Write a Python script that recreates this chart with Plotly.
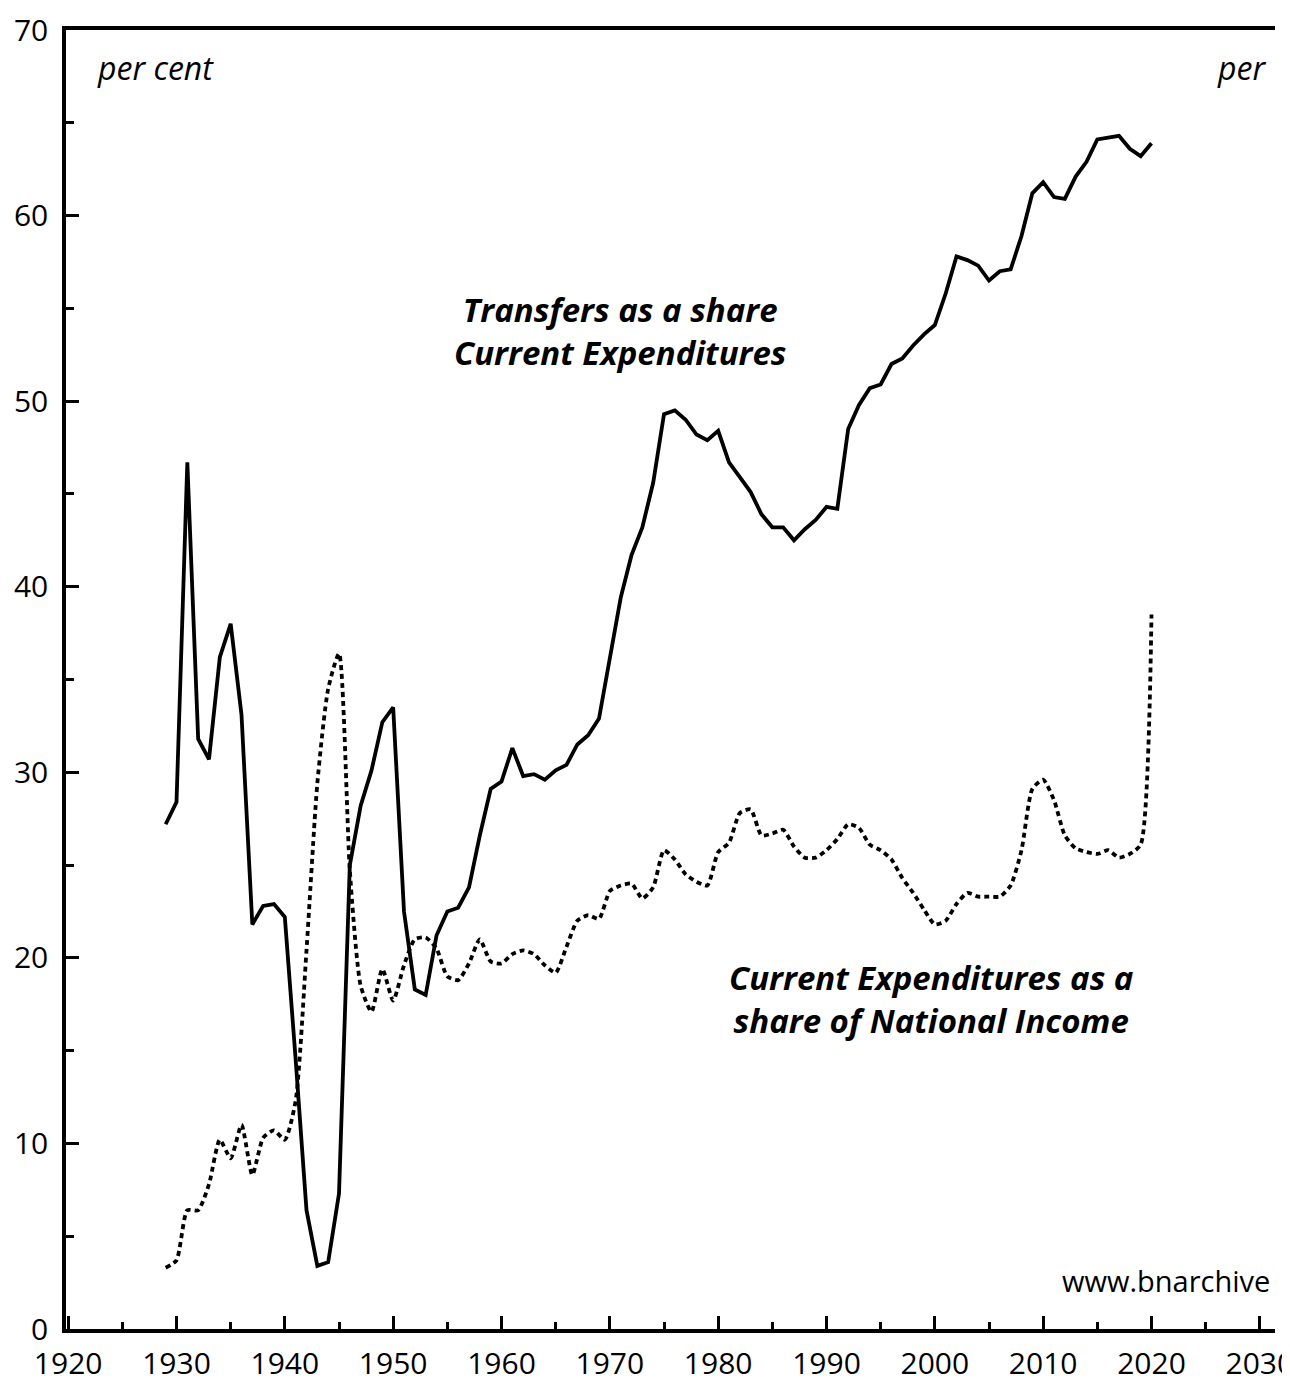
import plotly.graph_objects as go

years = list(range(1929, 2021))

transfers_share = [
    27.2, 28.4, 46.7, 31.8, 30.7, 36.2, 38.0, 33.1, 21.8, 22.8,   # 1929-1938
    22.9, 22.2, 14.5, 6.4, 3.4, 3.6, 7.3, 25.0, 28.2, 30.1,       # 1939-1948
    32.7, 33.5, 22.5, 18.3, 18.0, 21.2, 22.5, 22.7, 23.8, 26.6,   # 1949-1958
    29.1, 29.5, 31.3, 29.8, 29.9, 29.6, 30.1, 30.4, 31.5, 32.0,   # 1959-1968
    32.9, 36.1, 39.4, 41.7, 43.2, 45.6, 49.3, 49.5, 49.0, 48.2,   # 1969-1978
    47.9, 48.4, 46.7, 45.9, 45.1, 43.9, 43.2, 43.2, 42.5, 43.1,   # 1979-1988
    43.6, 44.3, 44.2, 48.5, 49.8, 50.7, 50.9, 52.0, 52.3, 53.0,   # 1989-1998
    53.6, 54.1, 55.8, 57.8, 57.6, 57.3, 56.5, 57.0, 57.1, 58.9,   # 1999-2008
    61.2, 61.8, 61.0, 60.9, 62.1, 62.9, 64.1, 64.2, 64.3, 63.6,   # 2009-2018
    63.2, 63.9,                                                   # 2019-2020
]

expenditures_share = [
    3.3, 3.7, 6.4, 6.4, 7.8, 10.2, 9.2, 11.0, 8.3, 10.3,          # 1929-1938
    10.7, 10.2, 12.3, 20.4, 29.4, 34.5, 36.4, 24.7, 18.5, 17.1,   # 1939-1948
    19.4, 17.7, 19.6, 21.0, 21.1, 20.5, 19.0, 18.8, 19.7, 21.0,   # 1949-1958
    19.8, 19.7, 20.2, 20.4, 20.2, 19.6, 19.2, 20.6, 22.0, 22.3,   # 1959-1968
    22.1, 23.6, 23.9, 24.0, 23.2, 23.8, 25.8, 25.3, 24.5, 24.1,   # 1969-1978
    23.9, 25.7, 26.2, 27.8, 28.0, 26.6, 26.7, 26.9, 26.0, 25.4,   # 1979-1988
    25.4, 25.8, 26.4, 27.2, 27.0, 26.1, 25.8, 25.3, 24.3, 23.5,   # 1989-1998
    22.6, 21.8, 22.0, 22.9, 23.5, 23.3, 23.3, 23.3, 23.9, 25.8,   # 1999-2008
    29.1, 29.6, 28.5, 26.6, 25.9, 25.7, 25.6, 25.8, 25.4, 25.6,   # 2009-2018
    26.1, 38.5,                                                   # 2019-2020
]

x_tick_vals = [1920, 1930, 1940, 1950, 1960, 1970, 1980, 1990, 2000, 2010, 2020, 2030]
y_tick_vals = [0, 10, 20, 30, 40, 50, 60, 70]

label_transfers = "Transfers as a share<br>Current Expenditures"
label_expend = "Current Expenditures as a<br>share of National Income"

fig = go.Figure()

fig.add_trace(go.Scatter(
    x=years, y=transfers_share, mode="lines",
    line=dict(color="black", width=3.8),
    showlegend=False, name="Transfers as a share of Current Expenditures",
))
fig.add_trace(go.Scatter(
    x=years, y=expenditures_share, mode="lines",
    line=dict(color="black", width=3.8, dash="5px,4px", shape="spline", smoothing=0.6),
    showlegend=False, name="Current Expenditures as a share of National Income",
))

font_family = "Open Sans, Lato, DejaVu Sans, sans-serif"

# the page body has an 8px margin, so the figure is sized/offset to compensate
fig.update_layout(
    width=1282, height=1372,
    margin=dict(l=58, r=15, t=22, b=51, autoexpand=False),
    paper_bgcolor="white", plot_bgcolor="white",
    font=dict(family=font_family, color="black", size=30),
    xaxis=dict(
        range=[1919.8, 2031.4],
        tickvals=x_tick_vals,
        ticks="inside", ticklen=13, tickwidth=2.5, tickcolor="black",
        minor=dict(dtick=5, tick0=1920, ticks="inside", ticklen=7, tickwidth=2.5, tickcolor="black"),
        showline=True, linewidth=3.5, linecolor="black", mirror=True,
        showgrid=False, zeroline=False,
        tickfont=dict(size=30, family=font_family, color="black"),
        ticklabelstandoff=5,
        ticklabeloverflow="allow",
        automargin=False,
    ),
    yaxis=dict(
        range=[0, 70],
        tickvals=y_tick_vals,
        ticks="inside", ticklen=13, tickwidth=3, tickcolor="black",
        minor=dict(dtick=5, tick0=0, ticks="inside", ticklen=8, tickwidth=3, tickcolor="black"),
        showline=True, linewidth=3.5, linecolor="black", mirror=False,
        showgrid=False, zeroline=False,
        tickfont=dict(size=30, family=font_family, color="black"),
        ticklabelstandoff=8,
        ticklabeloverflow="allow",
        automargin=False,
    ),
)

fig.add_annotation(
    x=0.024, y=0.971, xref="paper", yref="paper", xanchor="left", yanchor="middle",
    text="<i>per cent</i>", showarrow=False,
    font=dict(size=32, family=font_family, color="black"),
)
fig.add_annotation(
    x=0.994, y=0.971, xref="paper", yref="paper", xanchor="right", yanchor="middle",
    text="<i>per</i>", showarrow=False,
    font=dict(size=32, family=font_family, color="black"),
)
fig.add_annotation(
    x=1970.9, y=53.8, xref="x", yref="y", xanchor="center", yanchor="middle",
    text="<b><i>" + label_transfers + "</i></b>", showarrow=False, align="center",
    font=dict(size=33, family=font_family, color="black"),
)
fig.add_annotation(
    x=1999.7, y=17.8, xref="x", yref="y", xanchor="center", yanchor="middle",
    text="<b><i>" + label_expend + "</i></b>", showarrow=False, align="center",
    font=dict(size=33, family=font_family, color="black"),
)
fig.add_annotation(
    x=0.9975, y=0.0377, xref="paper", yref="paper", xanchor="right", yanchor="middle",
    text="www.bnarchive", showarrow=False,
    font=dict(size=29, family=font_family, color="black"),
)

fig.write_html("out.html")
